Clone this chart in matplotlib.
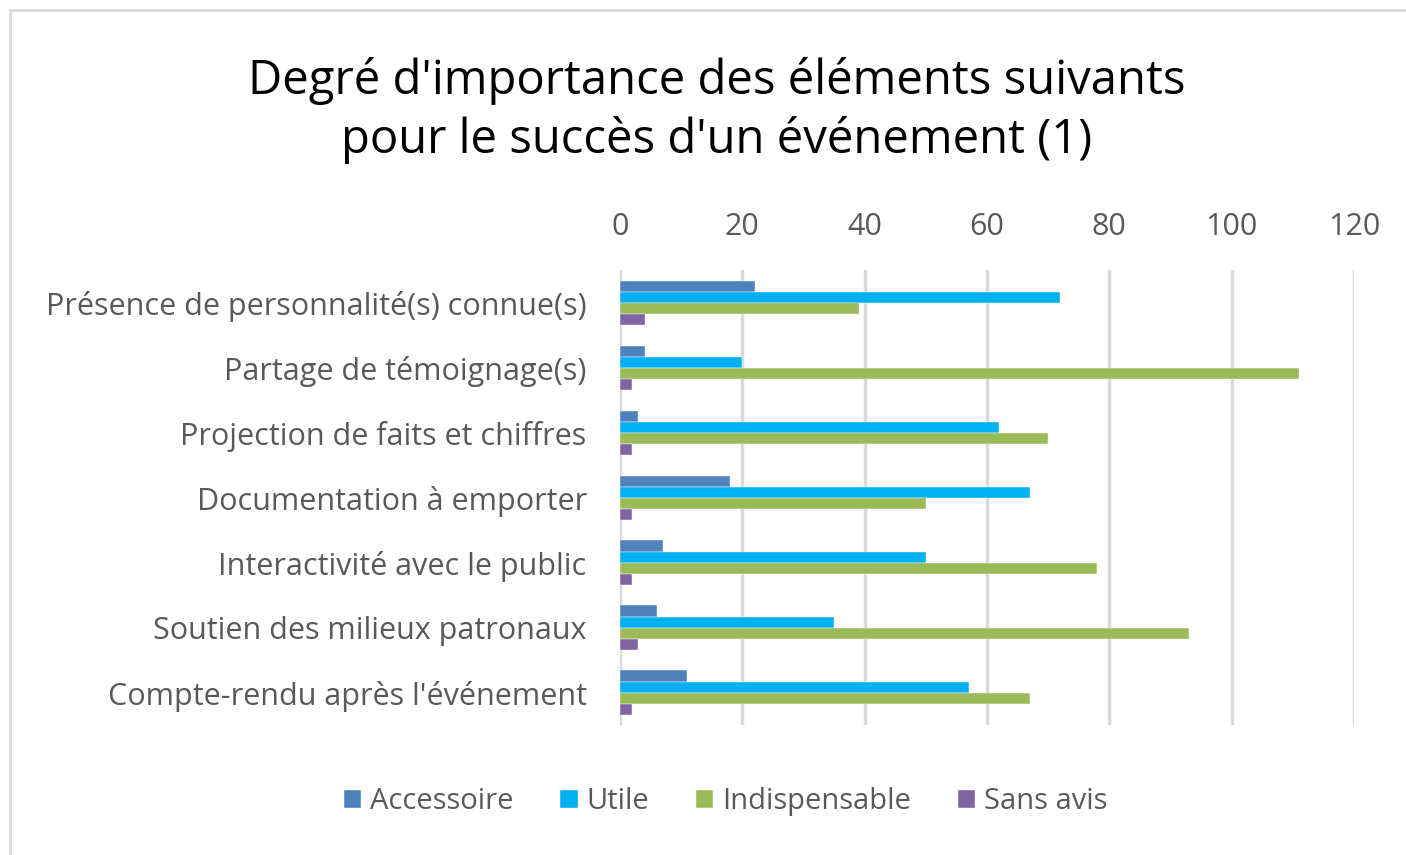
import numpy as np
import matplotlib.pyplot as plt
from matplotlib.patches import Rectangle

categories = ["Présence de personnalité(s) connue(s)",
              "Partage de témoignage(s)",
              "Projection de faits et chiffres",
              "Documentation à emporter",
              "Interactivité avec le public",
              "Soutien des milieux patronaux",
              "Compte-rendu après l'événement"]
series = ["Accessoire", "Utile", "Indispensable", "Sans avis"]
accessoire = [22, 4, 3, 18, 7, 6, 11]
utile = [72, 20, 62, 67, 50, 35, 57]
indispensable = [39, 111, 70, 50, 78, 93, 67]
sans_avis = [4, 2, 2, 2, 2, 3, 2]
colors = ["#4F81BD", "#00B0F0", "#9BBB59", "#8064A2"]

plt.rcParams['font.family'] = ['Open Sans', 'DejaVu Sans']

fig = plt.figure(figsize=(14.06, 8.55), dpi=100)
fig.patches.append(Rectangle((0.007, -0.01), 1.1, 0.998, transform=fig.transFigure,
                             fill=False, edgecolor="#D9D9D9", linewidth=2))
ax = fig.add_axes([0.441, 0.152, 0.522, 0.532])

y = np.arange(len(categories))
h = 0.17
vals = [accessoire, utile, indispensable, sans_avis]
for i, (name, v) in enumerate(zip(series, vals)):
    ax.barh(y + (i - 1.5) * h, v, height=h, color=colors[i], label=name,
            edgecolor="white", linewidth=0.3, zorder=3)

ax.set_xlim(0, 120)
ax.set_ylim(len(categories) - 0.5, -0.5)
ax.set_xticks(range(0, 121, 20))
ax.set_yticks(y)
ax.set_yticklabels(categories)
ax.xaxis.tick_top()
ax.tick_params(axis='both', length=0, labelsize=22, labelcolor="#595959")
ax.tick_params(axis='x', pad=20)
ax.tick_params(axis='y', pad=24)
ax.grid(axis='x', color="#D9D9D9", linewidth=2.5, zorder=0)
for s in ax.spines.values():
    s.set_visible(False)

fig.text(0.51, 0.871, "Degré d'importance des éléments suivants\npour le succès d'un événement (1)",
         ha='center', va='center', fontsize=34, color="#000000", linespacing=1.3)

fig.legend(loc='center', bbox_to_anchor=(0.516, 0.062), ncol=4, frameon=False,
           fontsize=21, labelcolor="#595959", handlelength=0.6, handleheight=0.6,
           handletextpad=0.3, columnspacing=1.6)

plt.savefig('out.png')
